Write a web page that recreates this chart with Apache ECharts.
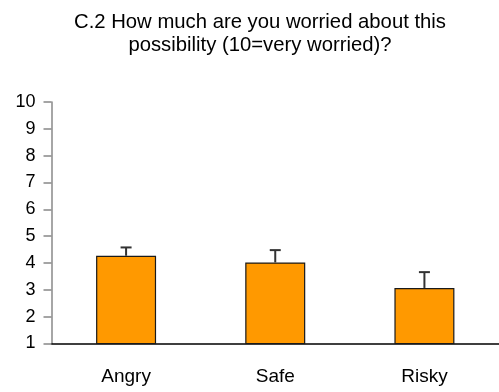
<!DOCTYPE html>
<html>
<head>
<meta charset="utf-8">
<script src="https://cdn.jsdelivr.net/npm/echarts@6/dist/echarts.min.js"></script>
<style>
  html, body { margin: 0; padding: 0; background: #fff; }
  #chart { width: 499px; height: 392px; }
</style>
</head>
<body>
<div id="chart"></div>
<script>
// Mean worry rating per condition, with the upper end of each error bar
const categories = ['Angry', 'Safe', 'Risky'];
const meanWorry = [4.27, 4.02, 3.07];
const errorTop = [4.58, 4.48, 3.66];
const yTicks = [1, 10, 1]; // min, max, step

const chart = echarts.init(document.getElementById('chart'), null, { renderer: 'canvas' });

const FONT = '"Liberation Sans", Arial, sans-serif';

chart.setOption({
  animation: false,
  backgroundColor: '#ffffff',
  title: {
    text: 'C.2 How much are you worried about this\npossibility (10=very worried)?',
    left: 255,
    top: 6,
    textAlign: 'center',
    textStyle: {
      fontFamily: FONT,
      fontSize: 20.3,
      fontWeight: 'normal',
      color: '#000',
      lineHeight: 23
    }
  },
  grid: {
    left: 51.5,
    top: 102,
    width: 452,
    height: 241.5,
    containLabel: false
  },
  xAxis: {
    type: 'category',
    data: categories,
    axisLine: { show: true, lineStyle: { color: '#000', width: 1.5 } },
    axisTick: { show: false },
    axisLabel: {
      margin: 24,
      fontFamily: FONT,
      fontSize: 19,
      color: '#000'
    },
    splitLine: { show: false }
  },
  yAxis: {
    type: 'value',
    min: yTicks[0],
    max: yTicks[1],
    interval: yTicks[2],
    axisLine: { show: true, lineStyle: { color: '#888', width: 1.5 } },
    axisTick: { show: true, length: 8, lineStyle: { color: '#888', width: 1.5 } },
    axisLabel: {
      margin: 16,
      fontFamily: FONT,
      fontSize: 18,
      color: '#000'
    },
    splitLine: { show: false }
  },
  series: [
    {
      type: 'bar',
      data: meanWorry,
      barWidth: 60,
      itemStyle: {
        color: '#FF9900',
        borderColor: '#1a1a1a',
        borderWidth: 1.2
      },
      z: 2
    },
    {
      type: 'custom',
      z: 3,
      data: categories.map((c, i) => [i, meanWorry[i], errorTop[i]]),
      renderItem: function (params, api) {
        const base = api.coord([api.value(0), api.value(1)]);
        const top = api.coord([api.value(0), api.value(2)]);
        const half = 5.5;
        const style = { stroke: '#333', lineWidth: 2 };
        return {
          type: 'group',
          children: [
            { type: 'line', shape: { x1: base[0], y1: base[1], x2: top[0], y2: top[1] }, style: style },
            { type: 'line', shape: { x1: top[0] - half, y1: top[1], x2: top[0] + half, y2: top[1] }, style: style }
          ]
        };
      }
    }
  ]
});
</script>
</body>
</html>
